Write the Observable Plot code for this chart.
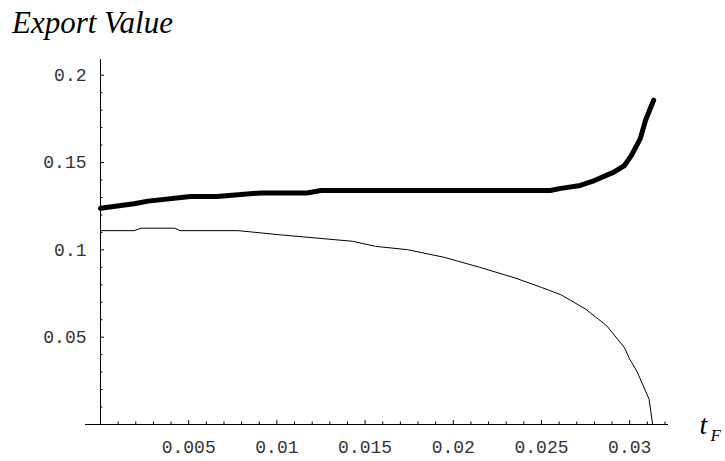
<!DOCTYPE html>
<html><head><meta charset="utf-8">
<script src="https://cdn.jsdelivr.net/npm/d3@7"></script>
<script src="https://cdn.jsdelivr.net/npm/@observablehq/plot@0.6"></script>
<style>
body{margin:0;background:#fff;}
#title{position:relative;height:45px;}
#title span{position:absolute;left:12px;top:7px;font:italic 31px "Liberation Serif",serif;line-height:31px;white-space:nowrap;color:#000;}
#chart svg{display:block;}
</style></head><body>
<div id="title"><span>Export Value</span></div>
<div id="chart"></div>
<script>
// Thick curve (upper)
const thickX = [0, 0.0019, 0.0027, 0.0051, 0.0066, 0.0091, 0.0117, 0.0125, 0.0255, 0.0261, 0.0272, 0.0280, 0.0291, 0.0297, 0.0301, 0.0306, 0.0309, 0.0312, 0.03136];
const thickY = [0.1238, 0.1264, 0.1279, 0.1306, 0.1306, 0.1326, 0.1326, 0.1340, 0.1340, 0.1352, 0.1369, 0.1397, 0.1445, 0.1483, 0.1541, 0.1637, 0.1742, 0.1818, 0.1857];
// Thin curve (lower)
const thinX = [0, 0.0019, 0.0023, 0.0042, 0.0045, 0.0078, 0.0102, 0.0143, 0.0156, 0.0174, 0.0195, 0.0215, 0.0235, 0.0250, 0.0261, 0.0275, 0.0287, 0.0297, 0.0300, 0.0304, 0.0311, 0.0313];
const thinY = [0.1110, 0.1110, 0.1124, 0.1124, 0.1110, 0.1110, 0.1086, 0.1049, 0.1020, 0.1001, 0.0957, 0.0900, 0.0839, 0.0785, 0.0743, 0.0661, 0.0565, 0.0441, 0.0374, 0.0307, 0.0145, 0.0];
// Ticks
const xMajorTicks = [0.005, 0.01, 0.015, 0.02, 0.025, 0.03];
const xTickLabels = ["0.005", "0.01", "0.015", "0.02", "0.025", "0.03"];
const xMinorTicks = [0.001,0.002,0.003,0.004,0.006,0.007,0.008,0.009,0.011,0.012,0.013,0.014,0.016,0.017,0.018,0.019,0.021,0.022,0.023,0.024,0.026,0.027,0.028,0.029,0.031,0.032];
const yMajorTicks = [0.05, 0.1, 0.15, 0.2];
const yTickLabels = ["0.05", "0.1", "0.15", "0.2"];
const yMinorTicks = [0.01,0.02,0.03,0.04,0.06,0.07,0.08,0.09,0.11,0.12,0.13,0.14,0.16,0.17,0.18,0.19];

const thick = thickX.map((x, i) => ({x, y: thickY[i]}));
const thin = thinX.map((x, i) => ({x, y: thinY[i]}));

const tickFont = "Liberation Mono, monospace";
const serif = "Liberation Serif, serif";

const chart = Plot.plot({
  width: 725, height: 416,
  marginLeft: 85, marginRight: 57, marginTop: 14, marginBottom: 37,
  x: {domain: [-0.00085, 0.0322], axis: null},
  y: {domain: [0, 0.209], axis: null},
  marks: [
    Plot.ruleY([0], {stroke: "#000", strokeWidth: 1}),
    Plot.ruleX([0], {stroke: "#000", strokeWidth: 1}),
    Plot.ruleX(xMinorTicks, {x: d => d, y1: 0, y2: 0, insetTop: -2.5, stroke: "#000"}),
    Plot.ruleX(xMajorTicks, {x: d => d, y1: 0, y2: 0, insetTop: -4, stroke: "#000"}),
    Plot.ruleY(yMinorTicks, {y: d => d, x1: 0, x2: 0, insetRight: -2.5, stroke: "#000"}),
    Plot.ruleY(yMajorTicks, {y: d => d, x1: 0, x2: 0, insetRight: -4, stroke: "#000"}),
    Plot.text(xMajorTicks, {x: d => d, y: 0, dy: 23, text: (d, i) => xTickLabels[i], fontFamily: tickFont, fontSize: 18, fill: "#333"}),
    Plot.text(yMajorTicks, {y: d => d, x: 0, dx: -14, textAnchor: "end", text: (d, i) => yTickLabels[i], fontFamily: tickFont, fontSize: 18, fill: "#333"}),
    Plot.line(thin, {x: "x", y: "y", stroke: "#000", strokeWidth: 1}),
    Plot.line(thick, {x: "x", y: "y", stroke: "#000", strokeWidth: 5, strokeLinecap: "round", strokeLinejoin: "round"}),
    Plot.text(["t"], {text: d => d, frameAnchor: "bottom-right", dx: 31, dy: 9, textAnchor: "start", fontFamily: serif, fontStyle: "italic", fontSize: 28, fill: "#000"}),
    Plot.text(["F"], {text: d => d, frameAnchor: "bottom-right", dx: 42, dy: 16, textAnchor: "start", fontFamily: serif, fontStyle: "italic", fontSize: 17, fill: "#000"})
  ]
});
document.getElementById("chart").appendChild(chart);
</script>
</body></html>
